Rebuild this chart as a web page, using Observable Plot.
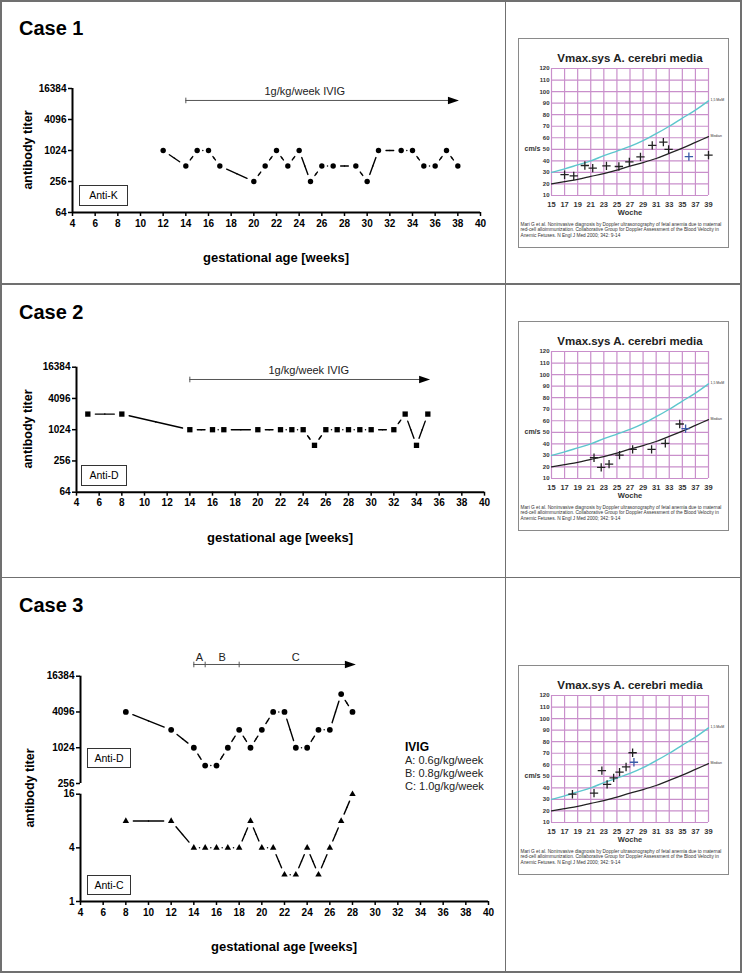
<!DOCTYPE html>
<html><head><meta charset="utf-8">
<script src="https://cdn.jsdelivr.net/npm/d3@7"></script>
<script src="https://cdn.jsdelivr.net/npm/@observablehq/plot@0.6"></script>
<style>
body{margin:0;background:#fff;}
#page{position:relative;width:742px;height:974px;overflow:hidden;background:#fff;}
.ln{position:absolute;background:#707070;}
</style></head><body><div id="page"></div>
<script>
// ---------- data ----------
const xTicks = d3.range(4, 41, 2);
const yTicksMain = [64, 256, 1024, 4096, 16384];
const yTicksUpper = [256, 1024, 4096, 16384];
const yTicksLower = [1, 4, 16];

// Case 1 (Anti-K)
const weeks1 = [12,14,15,16,17,20,21,22,23,24,25,26,27,29,30,31,33,34,35,36,37,38];
const titer1 = [1024,512,1024,1024,512,256,512,1024,512,1024,256,512,512,512,256,1024,1024,1024,512,512,1024,512];
// Case 2 (Anti-D)
const weeks2 = [5,8,14,16,17,20,22,23,24,25,26,27,28,29,30,32,33,34,35];
const titer2 = [2048,2048,1024,1024,1024,1024,1024,1024,1024,512,1024,1024,1024,1024,1024,1024,2048,512,2048];
// Case 3 (Anti-D and Anti-C)
const weeks3 = [8,12,14,15,16,17,18,19,20,21,22,23,24,25,26,27,28];
const antiD3 = [4096,2048,1024,512,512,1024,2048,1024,2048,4096,4096,1024,1024,2048,2048,8192,4096];
const antiC3 = [8,8,4,4,4,4,4,8,4,4,2,2,4,2,4,8,16];

// IVIG treatment arrows
const ivigLabel = "1g/kg/week IVIG";
const ivig1 = {start: 14, end: 38.1, labelWeek: 24.5, level: 9600};
const ivig2 = {start: 14, end: 35.2, labelWeek: 24.5, level: 9500};
const phaseStarts = [14, 15, 18];
const phaseEnds = [15, 18, 28];
const phaseNames = ["A", "B", "C"];
const ivig3 = {start: 14, end: 28.3, level: 25800};
const ivigDoses = ["A: 0.6g/kg/week", "B: 0.8g/kg/week", "C: 1.0g/kg/week"];

// Vmax.sys A. cerebri media reference curves
const vmaxWeeks = d3.range(15, 40, 2);
const vmaxCm = d3.range(10, 121, 10);
const curveWeeks = [15,17,19,21,23,25,27,29,31,33,35,37,39];
const mom15 = [30,33,36.5,40,44.5,48.5,52.5,57.5,63.5,70,77,84,92];
const median = [20,22,24,26.5,29,32,35.5,38.5,42,46.5,51,56,61];
// Doppler measurements (week, cm/s)
const mca1 = [[17,28],[18.4,27],[20.1,36],[21.3,33.7],[23.4,35.7],[25.3,35.1],[26.9,39.1],[28.6,43.4],[30.4,53.4],[32.1,56.3],[32.9,50],[39,44.9]];
const mca1Last = [[36,43.7]];
const mca2 = [[21.5,28],[22.6,19.6],[23.8,22.5],[25.4,30.3],[27.4,35.2],[30.3,35.2],[32.4,40.4],[34.6,57.2]];
const mca2Last = [[35.5,53.2]];
const mca3 = [[18.2,34.5],[21.5,35.4],[22.7,54.9],[23.5,43],[24.5,48.7],[25.4,53.6],[26.4,58.1],[27.4,70.4]];
const mca3Last = [[27.6,62.2]];
const citation = "Mari G et al. Noninvasive diagnosis by Doppler ultrasonography of fetal anemia due to maternal\nred-cell alloimmunization. Collaborative Group for Doppler Assessment of the Blood Velocity in\nAnemic Fetuses. N Engl J Med 2000; 342: 9-14";

// ---------- helpers ----------
const FONT = '"Liberation Sans", Arial, Helvetica, sans-serif';
const page = document.getElementById("page");
const baseStyle = {fontFamily: FONT, fontSize: "10px", fontWeight: "bold", color: "#000", background: "transparent", overflow: "visible"};
const headSym = {draw(ctx){ctx.moveTo(0,0);ctx.lineTo(-11,-3.8);ctx.lineTo(-11,3.8);ctx.closePath();}};
const barSym = {draw(ctx){ctx.moveTo(0,-2.8);ctx.lineTo(0,2.8);}};

function place(el, left, top){
  el.style.position = "absolute"; el.style.left = left + "px"; el.style.top = top + "px";
  page.appendChild(el); return el;
}
function div(text, css){
  const d = document.createElement("div");
  d.textContent = text;
  Object.assign(d.style, {position: "absolute", fontFamily: FONT, whiteSpace: "pre", lineHeight: "1", color: "#000"}, css);
  page.appendChild(d); return d;
}
function centered(text, cx, cy, css, rot){
  return div(text, Object.assign({left: cx + "px", top: cy + "px", transform: "translate(-50%,-50%)" + (rot ? " rotate(-90deg)" : "")}, css));
}
function box(text, l, t, w, h){
  return div(text, {left: l + "px", top: t + "px", width: w + "px", height: h + "px", border: "1.3px solid #333", boxSizing: "border-box",
    display: "flex", alignItems: "center", justifyContent: "center", fontSize: "10.5px"});
}
function line(l, t, w, h){ const d = document.createElement("div"); d.className = "ln";
  Object.assign(d.style, {left: l + "px", top: t + "px", width: w + "px", height: h + "px"}); page.appendChild(d); }

function seriesMarks(weeks, values, symbol, r){
  const data = weeks.map((w, i) => ({w, v: values[i]}));
  const pairs = d3.pairs(data);
  return [
    Plot.arrow(pairs, {x1: p => p[0].w, y1: p => p[0].v, x2: p => p[1].w, y2: p => p[1].v, headLength: 0, inset: 7.5, stroke: "#000", strokeWidth: 1.4}),
    Plot.dot(pairs, {x: p => (p[0].w + p[1].w) / 2, y: p => Math.sqrt(p[0].v * p[1].v), r: 0.75, fill: "#000", stroke: "none"}),
    Plot.dot(data, {x: "w", y: "v", symbol, r, fill: "#000", stroke: "none"})
  ];
}
function arrowMarks(a, ticks){
  return [
    Plot.ruleY([a.level], {x1: a.start, x2: a.end - 0.5, stroke: "#555", strokeWidth: 1}),
    Plot.dot([a.level], {x: a.end, y: d => d, symbol: headSym, fill: "#000", stroke: "none"}),
    Plot.dot(ticks, {x: d => d, y: a.level, symbol: barSym, stroke: "#555", fill: "none", strokeWidth: 1})
  ];
}
function axisYMarks(ticks, lo, hi){
  return [
    Plot.ruleX([4], {y1: lo, y2: hi, stroke: "#000", strokeWidth: 2}),
    Plot.axisY(ticks, {tickSize: 4, tickPadding: 2, strokeWidth: 1.5, tickFormat: d => String(d), label: null})
  ];
}
function axisXMarks(lo){
  return [
    Plot.ruleY([lo], {x1: 4, x2: 40, stroke: "#000", strokeWidth: 2}),
    Plot.axisX(xTicks, {tickSize: 4, tickPadding: 3, strokeWidth: 1.5, label: null})
  ];
}

// ---------- frame ----------
line(0, 0, 742, 2); line(0, 971, 742, 2); line(0, 0, 2, 973); line(740, 0, 2, 973);
line(0, 283, 742, 1.5); line(0, 576.5, 742, 1.5); line(504.5, 0, 1.3, 973);

// ---------- Case 1 ----------
div("Case 1", {left: "19px", top: "18px", fontSize: "20px", fontWeight: "bold"});
place(Plot.plot({
  width: 500, height: 200, marginLeft: 72, marginRight: 20, marginTop: 28, marginBottom: 48,
  x: {domain: [4, 40]}, y: {type: "log", base: 2, domain: [64, 16384]}, style: baseStyle,
  marks: [
    ...axisYMarks(yTicksMain, 64, 16384), ...axisXMarks(64),
    ...arrowMarks(ivig1, [ivig1.start]),
    Plot.text([ivigLabel], {x: ivig1.labelWeek, y: ivig1.level, dy: -9, text: d => d, fontWeight: "normal", fontSize: 11, fill: "#222"}),
    ...seriesMarks(weeks1, titer1, "circle", 2.7)
  ]
}), 0, 60);
box("Anti-K", 79, 185, 49, 21);
centered("antibody titer", 28, 150, {fontSize: "12.5px", fontWeight: "bold"}, true);
centered("gestational age [weeks]", 276, 257, {fontSize: "13px", fontWeight: "bold"});

// ---------- Case 2 ----------
div("Case 2", {left: "19px", top: "302px", fontSize: "20px", fontWeight: "bold"});
place(Plot.plot({
  width: 500, height: 200, marginLeft: 76, marginRight: 16, marginTop: 26.7, marginBottom: 48.3,
  x: {domain: [4, 40]}, y: {type: "log", base: 2, domain: [64, 16384]}, style: baseStyle,
  marks: [
    ...axisYMarks(yTicksMain, 64, 16384), ...axisXMarks(64),
    ...arrowMarks(ivig2, [ivig2.start]),
    Plot.text([ivigLabel], {x: ivig2.labelWeek, y: ivig2.level, dy: -9, text: d => d, fontWeight: "normal", fontSize: 11, fill: "#222"}),
    ...seriesMarks(weeks2, titer2, "square", 3.0)
  ]
}), 0, 340);
box("Anti-D", 81, 465, 46, 21);
centered("antibody titer", 28, 429, {fontSize: "12.5px", fontWeight: "bold"}, true);
centered("gestational age [weeks]", 280, 537, {fontSize: "13px", fontWeight: "bold"});

// ---------- Case 3 ----------
div("Case 3", {left: "19px", top: "595px", fontSize: "20px", fontWeight: "bold"});
place(Plot.plot({
  width: 500, height: 150, marginLeft: 80, marginRight: 12, marginTop: 35.7, marginBottom: 7,
  x: {domain: [4, 40], axis: null}, y: {type: "log", base: 2, domain: [256, 16384]}, style: baseStyle,
  marks: [
    ...axisYMarks(yTicksUpper, 256, 16384),
    ...arrowMarks(ivig3, phaseStarts),
    Plot.text(phaseNames, {x: (d, i) => (phaseStarts[i] + phaseEnds[i]) / 2, y: ivig3.level, dy: -7.5, text: d => d, fontWeight: "normal", fontSize: 11, fill: "#222"}),
    ...seriesMarks(weeks3, antiD3, "circle", 2.9)
  ]
}), 0, 640);
place(Plot.plot({
  width: 500, height: 160, marginLeft: 80, marginRight: 12, marginTop: 13.7, marginBottom: 39,
  x: {domain: [4, 40]}, y: {type: "log", base: 2, domain: [1, 16]}, style: baseStyle,
  marks: [
    ...axisYMarks(yTicksLower, 1, 16), ...axisXMarks(1),
    ...seriesMarks(weeks3, antiC3, "triangle", 2.4)
  ]
}), 0, 780);
box("Anti-D", 87, 748, 44, 20);
box("Anti-C", 87, 875, 44, 20);
centered("antibody titer", 30, 788, {fontSize: "12.5px", fontWeight: "bold"}, true);
centered("gestational age [weeks]", 284, 946, {fontSize: "13px", fontWeight: "bold"});
div("IVIG", {left: "405px", top: "741px", fontSize: "12px", fontWeight: "bold"});
div(ivigDoses.join("\n"), {left: "405px", top: "753.5px", fontSize: "11px", lineHeight: "13px", color: "#222"});

// ---------- Vmax panels ----------
const PURPLE = "#c98fcb";
function vmaxPanel(points, last, top){
  const curve = (vals) => curveWeeks.map((w, i) => ({w, v: vals[i]}));
  const svg = Plot.plot({
    width: 211, height: 210, marginLeft: 33, marginRight: 21, marginTop: 30, marginBottom: 53,
    x: {domain: [15, 39]}, y: {domain: [10, 120]},
    style: Object.assign({}, baseStyle, {fontWeight: "normal", fontSize: "7px"}),
    marks: [
      Plot.ruleX(vmaxWeeks, {y1: 10, y2: 120, stroke: PURPLE, strokeWidth: 1.2}),
      Plot.ruleY(vmaxCm, {x1: 15, x2: 39, stroke: PURPLE, strokeWidth: 1.2}),
      Plot.line(curve(mom15), {x: "w", y: "v", stroke: "#5cc7cd", strokeWidth: 1.4, curve: "monotone-x"}),
      Plot.line(curve(median), {x: "w", y: "v", stroke: "#222", strokeWidth: 1.2, curve: "monotone-x"}),
      Plot.text(["1,5 MoM"], {x: curveWeeks[curveWeeks.length - 1], y: mom15[mom15.length - 1], dx: 2, dy: -1, text: d => d, textAnchor: "start", fontSize: 3.5, fill: "#333"}),
      Plot.text(["Median"], {x: curveWeeks[curveWeeks.length - 1], y: median[median.length - 1], dx: 2, dy: -1, text: d => d, textAnchor: "start", fontSize: 3.5, fill: "#333"}),
      Plot.dot(points, {x: d => d[0], y: d => d[1], symbol: "plus", r: 2.8, stroke: "#222", strokeWidth: 1.3}),
      Plot.dot(last, {x: d => d[0], y: d => d[1], symbol: "plus", r: 2.8, stroke: "#3a5aa8", strokeWidth: 1.3}),
      Plot.axisX(vmaxWeeks, {tickSize: 0, tickPadding: 6, fontSize: 7.5, fontWeight: "bold", fill: "#333", label: null}),
      Plot.axisY(vmaxCm, {tickSize: 0, tickPadding: 2, fontSize: 6, fontWeight: "bold", fill: "#333", label: null}),
      Plot.text(["Vmax.sys A. cerebri media"], {frameAnchor: "top", dy: -15, text: d => d, fontSize: 11.5, fontWeight: "bold", fill: "#222"}),
      Plot.text(["Woche"], {frameAnchor: "bottom", dy: 19, text: d => d, fontSize: 7.5, fontWeight: "bold", fill: "#333"}),
      Plot.text(["cm/s"], {frameAnchor: "left", dx: -27, dy: 17, text: d => d, textAnchor: "start", fontSize: 7, fontWeight: "bold", fill: "#333"}),
      Plot.text([citation], {frameAnchor: "bottom-left", dx: -31, dy: 27, text: d => d, textAnchor: "start", lineAnchor: "top", lineHeight: 1.1, fontSize: 4.75, fill: "#333"})
    ]
  });
  place(svg, 518, top);
  const b = document.createElement("div");
  Object.assign(b.style, {position: "absolute", left: "518px", top: top + "px", width: "211px", height: "210px", border: "1px solid #8a8a8a", boxSizing: "border-box"});
  page.appendChild(b);
}
vmaxPanel(mca1, mca1Last, 38);
vmaxPanel(mca2, mca2Last, 321);
vmaxPanel(mca3, mca3Last, 665);
</script></body></html>
